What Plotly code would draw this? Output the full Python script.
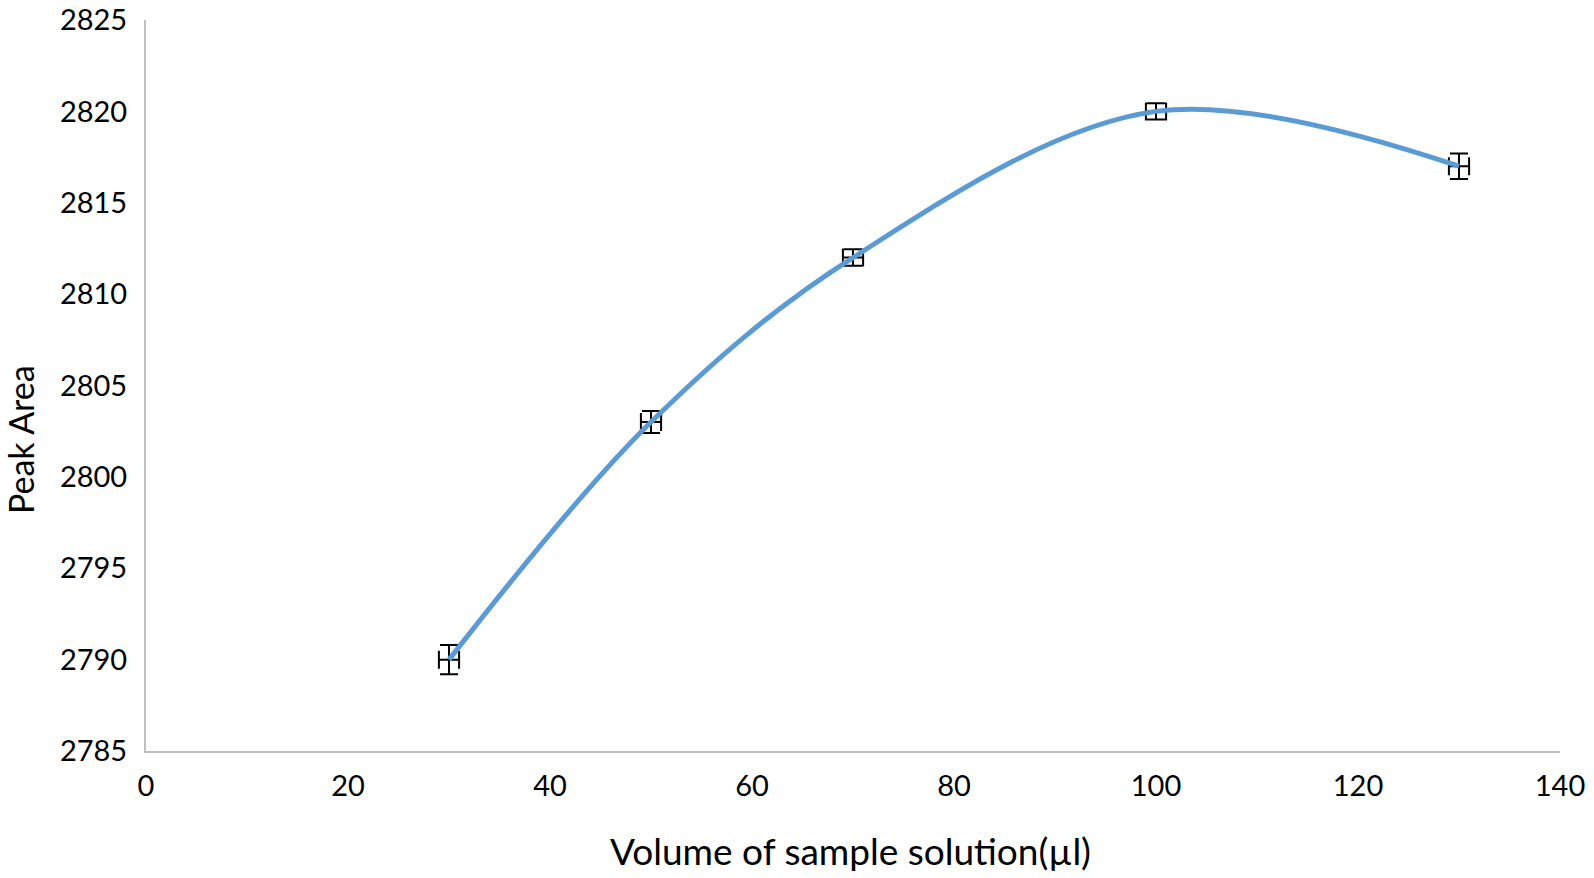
import plotly.graph_objects as go

volume = [30, 50, 70, 100, 130]
peak_area = [2790, 2803, 2812, 2820, 2817]
y_err = [0.8, 0.6, 0.45, 0.45, 0.7]
x_err = [1, 1, 1, 1, 1]
x_ticks = [0, 20, 40, 60, 80, 100, 120, 140]
y_ticks = [2785, 2790, 2795, 2800, 2805, 2810, 2815, 2820, 2825]

fig = go.Figure()
fig.add_trace(go.Scatter(
    x=volume, y=peak_area, mode="lines",
    line=dict(color="#5B9BD5", width=5, shape="spline", smoothing=1.0),
    error_y=dict(type="data", array=y_err, visible=True, color="black", thickness=2, width=9),
    error_x=dict(type="data", array=x_err, visible=True, color="black", thickness=2, width=9),
    showlegend=False,
))

font = "Lato, 'Open Sans', sans-serif"
fig.update_layout(
    width=1594, height=878,
    margin=dict(l=146, r=34, t=20, b=127),
    paper_bgcolor="white", plot_bgcolor="white",
    font=dict(family=font, color="black", size=29),
    xaxis=dict(range=[0, 140], tickvals=x_ticks, showgrid=False, zeroline=False,
               showline=True, linecolor="#BFBFBF", linewidth=2,
               ticks="outside", ticklen=8, tickcolor="rgba(0,0,0,0)",
               tickfont=dict(size=29), automargin=False, ticklabeloverflow="allow"),
    yaxis=dict(range=[2785, 2825], tickvals=y_ticks, showgrid=False, zeroline=False,
               showline=True, linecolor="#BFBFBF", linewidth=2,
               ticks="outside", ticklen=11, tickcolor="rgba(0,0,0,0)",
               tickfont=dict(size=29), automargin=False, ticklabeloverflow="allow"),
    annotations=[
        dict(text="Volume of sample solution(µl)", xref="paper", yref="paper",
             x=0.4979, y=-0.1360, xanchor="center", yanchor="middle",
             showarrow=False, font=dict(size=37, family=font, color="black")),
        dict(text="Peak Area", xref="paper", yref="paper",
             x=-0.0891, y=0.4254, xanchor="center", yanchor="middle", textangle=-90,
             showarrow=False, font=dict(size=34, family=font, color="black")),
    ],
)
fig.write_html("out.html", config={"displayModeBar": False},
               post_script="document.body.style.margin='0';document.body.style.overflow='hidden';")
